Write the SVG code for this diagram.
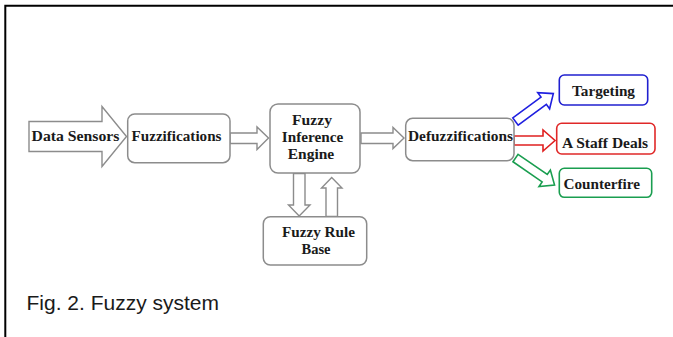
<svg xmlns="http://www.w3.org/2000/svg" width="673" height="337" viewBox="0 0 673 337">
  <style>
    .box { fill: #ffffff; stroke: #8c8c8c; stroke-width: 1.5; }
    .arrow { fill: #ffffff; stroke: #8c8c8c; stroke-width: 1.4; stroke-linejoin: miter; }
    .lbl { font-family: "Liberation Serif", "Times New Roman", serif; font-weight: bold; font-size: 15.5px; fill: #1a1a1a; text-anchor: middle; }
    .cap { font-family: "Liberation Sans", Arial, sans-serif; font-size: 21px; fill: #1a1a1a; }
  </style>

  <rect width="673" height="337" fill="#ffffff"/>
  <!-- frame -->
  <path d="M5.3,337 V5.8 H673" fill="none" stroke="#000000" stroke-width="2"/>

  <!-- connectors -->
  <g id="connectors">
    <!-- Data Sensors block arrow -->
    <polygon class="arrow" points="29,121.5 102,121.5 102,106.5 126.5,136.5 102,166.5 102,151.5 29,151.5"/>
    <!-- Fuzzifications -> Inference Engine -->
    <polygon class="arrow" points="230,133 257,133 257,127 268.5,138 257,149.5 257,143.5 230,143.5"/>
    <!-- Inference Engine -> Defuzzifications -->
    <polygon class="arrow" points="361,133 393,133 393,127.5 404,138 393,148.5 393,143.5 361,143.5"/>
    <!-- Inference Engine -> Rule Base (down) -->
    <polygon class="arrow" points="293.5,173.5 305,173.5 305,205 310,205 299.2,216 288.5,205 293.5,205"/>
    <!-- Rule Base -> Inference Engine (up) -->
    <polygon class="arrow" points="326,216.5 337.5,216.5 337.5,188 342,188 331.7,177.5 321.5,188 326,188"/>
    <!-- outputs -->
    <polygon transform="translate(515.5,121.5) rotate(-36.4)" fill="#ffffff" stroke="#1f1fe0" stroke-width="1.6"
             points="0,-4.5 35,-4.5 35,-10 47,0 35,10 35,4.5 0,4.5"/>
    <polygon fill="#ffffff" stroke="#e02020" stroke-width="1.6"
             points="514,136 543,136 543,130 555,140.5 543,151 543,145 514,145"/>
    <polygon transform="translate(515.5,158) rotate(34.7)" fill="#ffffff" stroke="#1a9e50" stroke-width="1.6"
             points="0,-4.5 35.5,-4.5 35.5,-10 47.5,0 35.5,10 35.5,4.5 0,4.5"/>
  </g>

  <g id="data-sensors">
    <text class="lbl" x="75.5" y="140.5" textLength="88" lengthAdjust="spacingAndGlyphs">Data Sensors</text>
  </g>

  <g id="fuzzifications">
    <rect class="box" x="127.7" y="114" width="102.3" height="48.7" rx="7"/>
    <text class="lbl" x="176.5" y="141" textLength="90" lengthAdjust="spacingAndGlyphs">Fuzzifications</text>
  </g>

  <g id="inference-engine">
    <rect class="box" x="270" y="104" width="90" height="69" rx="8"/>
    <text class="lbl" x="312" y="125" textLength="40" lengthAdjust="spacingAndGlyphs">Fuzzy</text>
    <text class="lbl" x="312.5" y="141.5" textLength="61.5" lengthAdjust="spacingAndGlyphs">Inference</text>
    <text class="lbl" x="311" y="158.5">Engine</text>
  </g>

  <g id="defuzzifications">
    <rect class="box" x="405.7" y="118.3" width="108.3" height="42.4" rx="7"/>
    <text class="lbl" x="460.5" y="141" textLength="105" lengthAdjust="spacingAndGlyphs">Defuzzifications</text>
  </g>

  <g id="rule-base">
    <rect class="box" x="263.3" y="216.7" width="103.4" height="48.3" rx="7"/>
    <text class="lbl" x="318.5" y="237" textLength="73" lengthAdjust="spacingAndGlyphs">Fuzzy Rule</text>
    <text class="lbl" x="316" y="253.5" textLength="29" lengthAdjust="spacingAndGlyphs">Base</text>
  </g>

  <g id="targeting">
    <rect x="559.3" y="75" width="88.4" height="30" rx="5" fill="#ffffff" stroke="#2020d0" stroke-width="1.6"/>
    <text class="lbl" x="603.5" y="96" textLength="63" lengthAdjust="spacingAndGlyphs">Targeting</text>
  </g>

  <g id="staff-deals">
    <rect x="556.7" y="123.3" width="98.3" height="30.7" rx="5" fill="#ffffff" stroke="#e02828" stroke-width="1.6"/>
    <text class="lbl" x="605" y="147.5" textLength="86" lengthAdjust="spacingAndGlyphs">A Staff Deals</text>
  </g>

  <g id="counterfire">
    <rect x="559.3" y="168.3" width="92.4" height="29" rx="5" fill="#ffffff" stroke="#1a9e50" stroke-width="1.6"/>
    <text class="lbl" x="601.7" y="188.5" textLength="76.5" lengthAdjust="spacingAndGlyphs">Counterfire</text>
  </g>

  <text class="cap" x="26.5" y="309.5">Fig. 2. Fuzzy system</text>
</svg>
